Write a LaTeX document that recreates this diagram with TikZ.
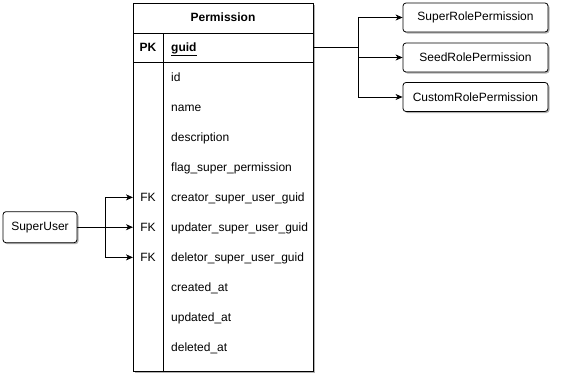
\documentclass[tikz,border=0pt]{standalone}
\usepackage{fontspec}
\setmainfont{Liberation Sans}
\usetikzlibrary{arrows.meta,shadows}
\begin{document}
\begin{tikzpicture}[x=1pt,y=-1pt,
  font=\fontsize{12}{14}\selectfont,
  shade/.style={drop shadow={shadow xshift=1.5pt,shadow yshift=-1.5pt,opacity=0.3,fill=black}},
  entity/.style={draw=black,line width=0.8pt,fill=white,rounded corners=3pt,shade,
    inner sep=0pt,minimum height=29pt},
  field/.style={anchor=base west,inner sep=0pt},
  keytag/.style={anchor=base,inner sep=0pt},
  link/.style={draw=black,line width=0.8pt},
  arr/.style={link,-{Stealth[length=7pt,width=6pt,inset=2pt]}}]
\useasboundingbox (0,0) rectangle (562,386);

% Permission table
\node[draw=black,line width=0.8pt,fill=white,shade,inner sep=0pt,
  minimum width=180pt,minimum height=368pt,anchor=north west] (perm) at (133,3) {};
\draw[line width=0.8pt] (133,33) -- (313,33);
\draw[line width=0.8pt] (133,62) -- (313,62);
\draw[line width=0.8pt] (163,33) -- (163,371);

\node[anchor=base,inner sep=0pt,font=\fontsize{12}{14}\selectfont\bfseries] (title) at (223,21.5) {Permission};
\node[keytag,font=\fontsize{12}{14}\selectfont\bfseries] (pk) at (148,51.5) {PK};
\node[field,font=\fontsize{12}{14}\selectfont\bfseries] (guid) at (171,51.5) {\underline{guid}};

\node[field] (fid) at (171,81.5) {id};
\node[field] (fname) at (171,111.5) {name};
\node[field] (fdesc) at (171,141.5) {description};
\node[field] (fflag) at (171,171.5) {flag\_super\_permission};
\node[field] (fcreator) at (171,201.5) {creator\_super\_user\_guid};
\node[field] (fupdater) at (171,231.5) {updater\_super\_user\_guid};
\node[field] (fdeletor) at (171,261.5) {deletor\_super\_user\_guid};
\node[field] (fcreated) at (171,291.5) {created\_at};
\node[field] (fupdated) at (171,321.5) {updated\_at};
\node[field] (fdeleted) at (171,351.5) {deleted\_at};

\node[keytag] (fk1) at (148,201.5) {FK};
\node[keytag] (fk2) at (148,231.5) {FK};
\node[keytag] (fk3) at (148,261.5) {FK};

% Related entities
\node[entity,minimum width=74pt,minimum height=31pt] (su) at (40,227.2) {SuperUser};
\node[entity,minimum width=145pt] (srp) at (475.5,17.5) {SuperRolePermission};
\node[entity,minimum width=145pt] (seed) at (475.5,57.5) {SeedRolePermission};
\node[entity,minimum width=145pt] (crp) at (475.5,97) {CustomRolePermission};

% Foreign keys from SuperUser
\path (su.east) ++(28,0) coordinate (sujoin);
\draw[arr] (su.east) -- (sujoin) |- (perm.west |- fk1);
\draw[arr] (sujoin) -- (perm.west |- sujoin);
\draw[arr] (sujoin) |- (perm.west |- fk3);

% guid referenced by role permissions
\path (perm.east |- pk) ++(45,0) coordinate (pjoin);
\draw[link] (perm.east |- pk) -- (pjoin);
\draw[arr] (pjoin) |- (srp.west);
\draw[arr] (pjoin) |- (seed.west);
\draw[arr] (pjoin) |- (crp.west);
\end{tikzpicture}
\end{document}
